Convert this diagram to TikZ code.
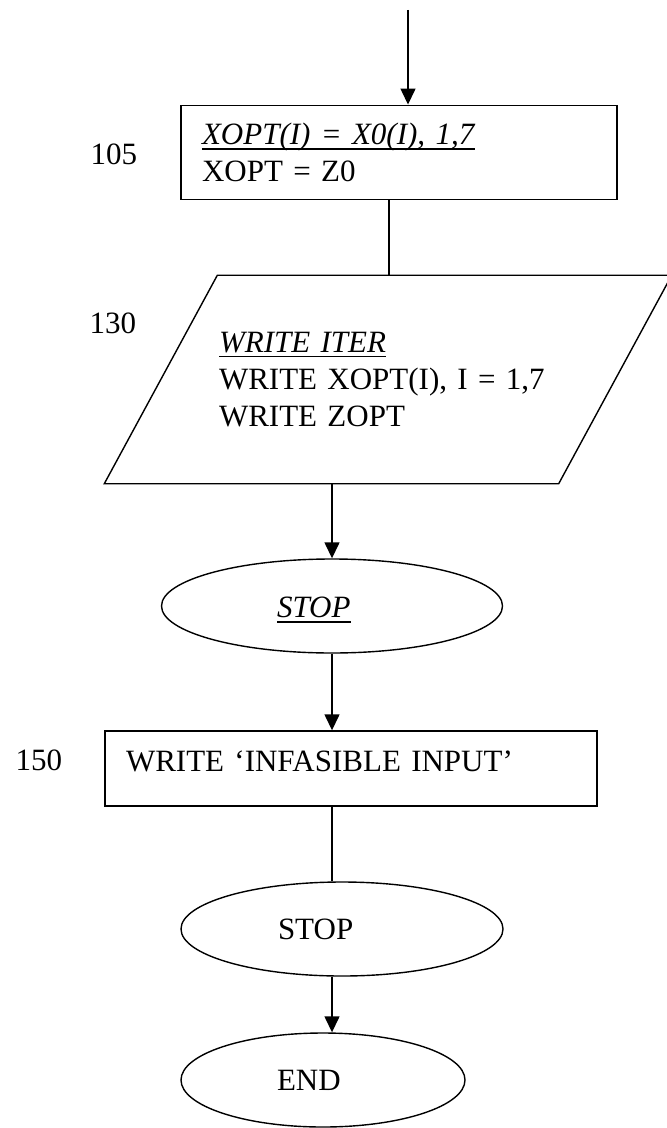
\documentclass[tikz,border=0pt]{standalone}
\usepackage{fontspec}
\setmainfont{Liberation Serif}
\usetikzlibrary{shapes.geometric,arrows.meta}
\newsavebox\ulbox
\newcommand\ulin[1]{\sbox\ulbox{#1}\rlap{\usebox\ulbox}%
  \rule[-2.5pt]{\wd\ulbox}{0.55pt}}

\begin{document}
\begin{tikzpicture}[x=0.5pt,y=-0.5pt,
    font=\fontsize{15.5}{18.5}\selectfont,
    line width=0.7pt,
    >={Triangle[length=8pt,width=7.5pt]},
    every node/.style={inner sep=0pt},
    proc/.style={draw,rectangle,align=left},
    io/.style={rectangle,align=left},
    term/.style={draw,ellipse,minimum height=47pt,align=left,
      text height=10.5pt,text depth=0pt},
    num/.style={anchor=base west}]
  \useasboundingbox (0,0) rectangle (666,1128);
  \coordinate (in) at (408,10);
  \node[proc,minimum width=218pt,minimum height=47.25pt,text width=197pt]
    (b105) at (399,152.5) {\ulin{\textit{XOPT(I) = X0(I), 1,7}}\\XOPT = Z0};
  \node[io,minimum width=226.5pt,minimum height=103.5pt,text width=169pt]
    (w130) at (388,379.5) {\ulin{\textit{WRITE ITER}}\\
      WRITE XOPT(I), I = 1,7\\WRITE ZOPT};
  \draw ([xshift=28.25pt]w130.north west) -- ([xshift=28.25pt]w130.north east)
    -- ([xshift=-28.25pt]w130.south east) -- ([xshift=-28.25pt]w130.south west)
    -- cycle;
  \node[term,minimum width=170.5pt,text width=55pt,text height=11.5pt]
    (stopi) at (332,606) {\ulin{\textit{STOP}}};
  \node[proc,minimum width=246pt,minimum height=37.5pt,text width=225pt,
    text height=11pt,text depth=8.5pt]
    (b150) at (351,768.5) {WRITE ‘INFASIBLE INPUT’};
  \node[term,minimum width=161pt,text width=64pt]
    (stop) at (342,929) {STOP};
  \node[term,minimum width=142pt,text width=46pt]
    (fin) at (323,1080) {END};
  \node[num] (n105) at (90,165) {105};
  \node[num] (n130) at (89,334) {130};
  \node[num] (n150) at (15,770) {150};
  % connectors
  \draw[->] (in) -- (in |- b105.north);
  \draw ([xshift=-5pt]b105.south) -- ([xshift=-5pt]b105.south |- w130.north);
  \draw[->] (w130.south -| stopi) -- (stopi.north);
  \draw[->] (stopi.south) -- (stopi.south |- b150.north);
  \draw (b150.south -| stopi) -- (stop.north -| stopi);
  \draw[->] (stop.south -| stopi) -- (fin.north -| stopi);
\end{tikzpicture}
\end{document}
